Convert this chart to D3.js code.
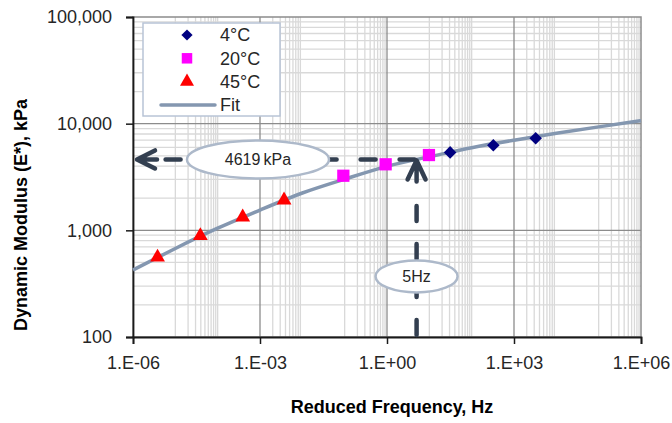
<!DOCTYPE html>
<html>
<head>
<meta charset="utf-8">
<script src="https://cdn.jsdelivr.net/npm/d3@7"></script>
<style>
  body { margin: 0; background: #fff; }
  svg { display: block; font-family: "Liberation Sans", Arial, sans-serif; }
  .tick text { font-size: 18px; fill: #262626; }
  .axis-title { font-size: 18px; font-weight: bold; fill: #000; }
</style>
</head>
<body>
<div id="chart"></div>
<script>
// Master curve data
var freq4 = [31, 325, 3250];
var mod4 = [5380, 6270, 7290];
var freq20 = [0.093, 0.93, 9.8];
var mod20 = [3250, 4160, 5080];
var freq45 = [3.8e-6, 3.9e-5, 3.9e-4, 3.7e-3];
var mod45 = [560, 890, 1330, 1920];

// Fitted sigmoid, sampled at each decade
var fitFreq = [1e-6, 1e-5, 1e-4, 1e-3, 1e-2, 1e-1, 1, 10, 100, 1e3, 1e4, 1e5, 1e6];
var fitMod = [425, 676, 1047, 1549, 2239, 3020, 3981, 4898, 5957, 7000, 8128, 9333, 10670];

// Axis ticks
var xTicks = [1e-6, 1e-3, 1, 1e3, 1e6];
var yTicks = [100, 1000, 10000, 100000];

// Annotation (5 Hz -> 4619 kPa)
var annoFreq = 5;
var annoMod = 4619;
var annoModLabel = '4619\u2009kPa';
var annoFreqLabel = '5Hz';

var legendItems = [
  { label: '4\u00B0C', type: 'diamond' },
  { label: '20\u00B0C', type: 'square' },
  { label: '45\u00B0C', type: 'triangle' },
  { label: 'Fit', type: 'line' },
];

var width = 672, height = 423;
var margin = { top: 17, right: 31, bottom: 86, left: 133 };
var colors = { diamond: '#000080', square: '#ff00ff', triangle: '#ff0000', line: '#8497b0' };
var annoColor = '#333f50';
var ellipseStroke = '#adb9ca';

var svg = d3.select('#chart').append('svg').attr('width', width).attr('height', height);

var x = d3.scaleLog().domain([1e-6, 1e6]).range([margin.left, width - margin.right]);
var y = d3.scaleLog().domain([100, 100000]).range([height - margin.bottom, margin.top]);

// Gridlines: minor positions follow the reference chart's pattern
var xMinor = [];
xTicks.slice(0, -1).forEach(function (m, i) {
  if (i % 2 === 0) {
    for (var k = 1; k <= 10; k++) xMinor.push(m * 10 * k);
  } else {
    for (var k2 = 2; k2 <= 9; k2++) xMinor.push(m * k2);
    for (var k3 = 1; k3 <= 9; k3++) xMinor.push(m * 100 * k3);
  }
});
var yMinor = [];
yTicks.slice(0, -1).forEach(function (m) {
  for (var k = 2; k <= 9; k++) yMinor.push(m * k);
});

var grid = svg.append('g').classed('grid', true);
grid.selectAll('line.xminor')
  .data(xMinor)
  .join('line')
  .attr('class', 'xminor')
  .attr('x1', function (d) { return x(d); }).attr('x2', function (d) { return x(d); })
  .attr('y1', y.range()[0]).attr('y2', y.range()[1])
  .attr('stroke', '#d9d9d9').attr('stroke-width', 1.3);
grid.selectAll('line.yminor')
  .data(yMinor)
  .join('line')
  .attr('class', 'yminor')
  .attr('x1', x.range()[0]).attr('x2', x.range()[1])
  .attr('y1', function (d) { return y(d); }).attr('y2', function (d) { return y(d); })
  .attr('stroke', '#d9d9d9').attr('stroke-width', 1.3);
grid.selectAll('line.xmajor')
  .data(xTicks.slice(1, -1))
  .join('line')
  .attr('class', 'xmajor')
  .attr('x1', function (d) { return x(d); }).attr('x2', function (d) { return x(d); })
  .attr('y1', y.range()[0]).attr('y2', y.range()[1])
  .attr('stroke', '#8c8c8c').attr('stroke-width', 1.3);
grid.selectAll('line.ymajor')
  .data(yTicks.slice(1, -1))
  .join('line')
  .attr('class', 'ymajor')
  .attr('x1', x.range()[0]).attr('x2', x.range()[1])
  .attr('y1', function (d) { return y(d); }).attr('y2', function (d) { return y(d); })
  .attr('stroke', '#8c8c8c').attr('stroke-width', 1.3);
grid.append('rect')
  .attr('x', x.range()[0]).attr('y', y.range()[1])
  .attr('width', x.range()[1] - x.range()[0])
  .attr('height', y.range()[0] - y.range()[1])
  .attr('fill', 'none').attr('stroke', '#8c8c8c').attr('stroke-width', 1.5);

// Axes
var fmtExp = function (d) {
  var e = Math.round(Math.log10(d));
  return '1.E' + (e < 0 ? '-' : '+') + String(Math.abs(e)).padStart(2, '0');
};
var xAxis = svg.append('g')
  .attr('transform', 'translate(0,' + y.range()[0] + ')')
  .call(d3.axisBottom(x).tickValues(xTicks).tickFormat(fmtExp).tickSize(7).tickPadding(12));
var yAxis = svg.append('g')
  .attr('transform', 'translate(' + x.range()[0] + ',0)')
  .call(d3.axisLeft(y).tickValues(yTicks).tickFormat(d3.format(',')).tickSize(7).tickPadding(14));
[xAxis, yAxis].forEach(function (a) {
  a.select('.domain').attr('stroke', '#1a1a1a').attr('stroke-width', 1.8);
  a.selectAll('.tick line').attr('stroke', '#1a1a1a').attr('stroke-width', 1.5);
  a.selectAll('.tick text').attr('font-size', null).attr('font-family', null);
});
xAxis.attr('font-size', null).attr('font-family', null);
yAxis.attr('font-size', null).attr('font-family', null);

// Fit curve
svg.append('path')
  .datum(fitFreq.map(function (f, i) { return [f, fitMod[i]]; }))
  .attr('fill', 'none')
  .attr('stroke', colors.line)
  .attr('stroke-width', 3.5)
  .attr('d', d3.line().x(function (d) { return x(d[0]); }).y(function (d) { return y(d[1]); }).curve(d3.curveNatural));

// Markers
var symbolOf = {
  diamond: d3.symbol().type(d3.symbolDiamond2).size(100),
  square: d3.symbol().type(d3.symbolSquare).size(150),
  triangle: d3.symbol().type(d3.symbolTriangle).size(95),
};
var series = [
  { type: 'triangle', f: freq45, m: mod45 },
  { type: 'square', f: freq20, m: mod20 },
  { type: 'diamond', f: freq4, m: mod4 },
];
series.forEach(function (s) {
  svg.append('g').selectAll('path')
    .data(s.f.map(function (f, i) { return [f, s.m[i]]; }))
    .join('path')
    .attr('d', symbolOf[s.type]())
    .attr('fill', colors[s.type])
    .attr('transform', function (d) { return 'translate(' + x(d[0]) + ',' + y(d[1]) + ')'; });
});

// Annotation: dashed guides with arrows
var ax = x(annoFreq), ay = y(annoMod);
var anno = svg.append('g').attr('stroke', annoColor).attr('stroke-width', 4.5)
  .attr('fill', 'none').attr('stroke-linecap', 'round').attr('stroke-linejoin', 'round');
anno.append('line')
  .attr('x1', ax).attr('y1', ay).attr('x2', x.range()[0] + 22).attr('y2', ay)
  .attr('stroke-dasharray', '15 24').attr('stroke-dashoffset', -2);
anno.append('line')
  .attr('x1', ax).attr('y1', y.range()[0] - 2).attr('x2', ax).attr('y2', ay + 24)
  .attr('stroke-dasharray', '15 23');
var tipX = x.range()[0] + 4;
anno.append('path')
  .attr('d', 'M' + (tipX + 18) + ',' + (ay - 9) + 'L' + tipX + ',' + ay + 'L' + (tipX + 18) + ',' + (ay + 9) +
    'M' + tipX + ',' + ay + 'L' + (tipX + 20) + ',' + ay);
anno.append('path')
  .attr('d', 'M' + (ax - 9) + ',' + (ay + 20) + 'L' + ax + ',' + (ay + 1) + 'L' + (ax + 9) + ',' + (ay + 20) +
    'M' + ax + ',' + (ay + 1) + 'L' + ax + ',' + (ay + 22));

// Annotation labels
var labels = [
  { cx: x(1e-3) - 2, cy: ay, rx: 71, ry: 19, text: annoModLabel },
  { cx: ax, cy: y(370), rx: 41, ry: 16, text: annoFreqLabel },
];
var lab = svg.append('g').selectAll('g').data(labels).join('g')
  .attr('transform', function (d) { return 'translate(' + d.cx + ',' + d.cy + ')'; });
lab.append('ellipse')
  .attr('rx', function (d) { return d.rx; }).attr('ry', function (d) { return d.ry; })
  .attr('fill', '#fff').attr('stroke', ellipseStroke).attr('stroke-width', 2.5);
lab.append('text')
  .attr('text-anchor', 'middle').attr('dy', '0.36em')
  .attr('font-size', 16).attr('fill', '#262626')
  .text(function (d) { return d.text; });

// Legend
var legend = svg.append('g').attr('transform', 'translate(143,23)');
legend.append('rect')
  .attr('width', 137).attr('height', 93)
  .attr('fill', '#fff').attr('stroke', '#b8c4d6').attr('stroke-width', 1.5);
var li = legend.selectAll('g.item').data(legendItems).join('g')
  .attr('class', 'item')
  .attr('transform', function (d, i) { return 'translate(0,' + (12 + i * 23.3) + ')'; });
li.filter(function (d) { return d.type !== 'line'; })
  .append('path')
  .attr('transform', 'translate(44,0)')
  .attr('d', function (d) {
    var sizes = { diamond: 80, square: 110, triangle: 85 };
    var types = { diamond: d3.symbolDiamond2, square: d3.symbolSquare, triangle: d3.symbolTriangle };
    return d3.symbol().type(types[d.type]).size(sizes[d.type])();
  })
  .attr('fill', function (d) { return colors[d.type]; });
li.filter(function (d) { return d.type === 'line'; })
  .append('line')
  .attr('x1', 18).attr('x2', 72)
  .attr('stroke', colors.line).attr('stroke-width', 3.5).attr('stroke-linecap', 'round');
li.append('text')
  .attr('x', 77).attr('dy', '0.35em')
  .attr('font-size', 18).attr('fill', '#262626')
  .text(function (d) { return d.label; });

// Axis titles
svg.append('text')
  .attr('class', 'axis-title')
  .attr('text-anchor', 'middle')
  .attr('x', 392).attr('y', 413)
  .text('Reduced Frequency, Hz');
svg.append('text')
  .attr('class', 'axis-title')
  .attr('text-anchor', 'middle')
  .attr('transform', 'translate(27,215) rotate(-90)')
  .text('Dynamic Modulus (E*), kPa');
</script>
</body>
</html>
